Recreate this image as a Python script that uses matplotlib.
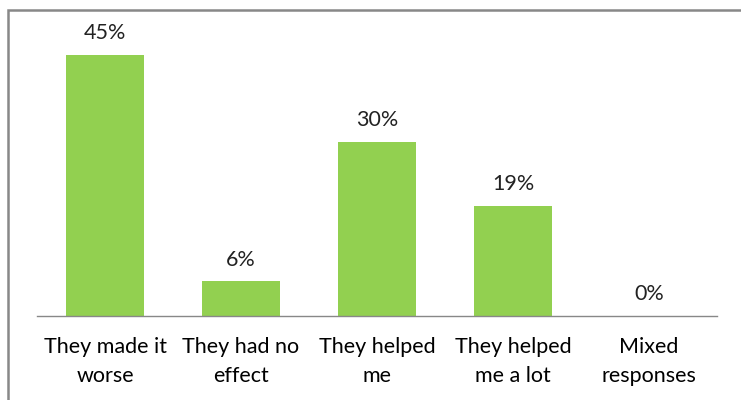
import matplotlib

matplotlib.use("Agg")
import matplotlib.pyplot as plt
from matplotlib.patches import Rectangle

categories = [
    "They made it\nworse",
    "They had no\neffect",
    "They helped\nme",
    "They helped\nme a lot",
    "Mixed\nresponses",
]
values = [45, 6, 30, 19, 0]

W, H = 741, 400
fig = plt.figure(figsize=(W / 100, H / 100), dpi=100)

# chart frame, cut off on the right and bottom like the screenshot
fig.patches.append(
    Rectangle((8 / W, -0.1), 1.2, (H - 10) / H + 0.1, transform=fig.transFigure,
              fill=False, edgecolor="#888888", linewidth=1.8)
)

ax = fig.add_axes([37 / W, (H - 316) / H, (717 - 37) / W, (316 - 14.5) / H])
x = range(len(values))
ax.bar(x, values, width=0.57, color="#92D050")
ax.set_xlim(-0.5, len(values) - 0.5)
ax.set_ylim(0, 52)

for xi, v in zip(x, values):
    ax.text(xi, v + 2.0, f"{v}%", ha="center", va="bottom",
            fontsize=15.5, color="#222222", family="Lato")

for side in ["top", "right", "left"]:
    ax.spines[side].set_visible(False)
ax.spines["bottom"].set_color("#888888")
ax.spines["bottom"].set_linewidth(1.0)
ax.set_yticks([])
ax.set_xticks(list(x))
ax.set_xticklabels(categories, fontsize=15.5, family="Lato", linespacing=1.6)
ax.tick_params(axis="x", length=0, pad=15)

fig.savefig("out.png", dpi=100)
